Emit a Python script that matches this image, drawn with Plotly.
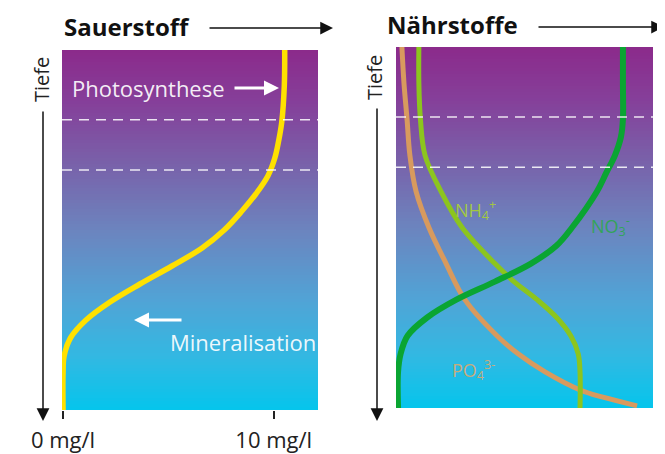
import plotly.graph_objects as go

W, H = 665, 454

# ---------------- data ----------------
# Left panel: oxygen profile (mg/l) vs depth (0 = surface, 100 = bottom)
o2_depth = [0, 10, 20, 25, 30, 35, 40, 45, 50, 55, 60, 65, 70, 75, 80, 85, 90, 100]
o2_value = [10.52, 10.5, 10.38, 10.24, 10.05, 9.72, 9.15, 8.45, 7.65, 6.6, 5.17, 3.65, 2.23, 1.09, 0.35, 0.05, 0.0, 0.0]
o2_ticks = [0, 10]
o2_ticktext = ["0 mg/l", "10 mg/l"]

# Right panel: nutrients (relative units 0-100) vs depth
po4_depth = [0, 10, 20, 30, 40, 50, 60, 70, 80, 85, 90, 95, 97, 99.4]
po4_value = [2.3, 3.1, 4.3, 5.4, 7.8, 12.8, 19.5, 26.8, 39.3, 47.5, 58.0, 71.6, 80.5, 93.8]

nh4_depth = [0, 10, 20, 30, 40, 50, 60, 65, 70, 75, 80, 85, 90, 100]
nh4_value = [8.9, 8.9, 9.5, 11.3, 17.5, 25.7, 38.5, 45.9, 54.9, 62.6, 68.0, 70.9, 71.6, 71.6]

no3_depth = [0, 10, 20, 25, 30, 35, 40, 50, 55, 60, 65, 70, 75, 80, 85, 90, 100]
no3_value = [88.3, 88.3, 88.3, 87.5, 85.2, 81.7, 78.2, 68.5, 62.5, 52.5, 38.5, 23.5, 12.0, 4.5, 1.8, 0.8, 0.8]

# layer boundaries (dashed lines)
dashed_depths = [19.4, 33.3]

# ---------------- helpers ----------------
OFF = 8  # page body margin

def px(x):
    return (x - OFF) / W

def py(y):
    return 1 - (y - OFF) / H

FONT = "Open Sans"

bg_scale = [
    [0.0, "#8B2A8B"],
    [0.15, "#85409A"],
    [0.3, "#7A5EA8"],
    [0.5, "#6C84BE"],
    [0.7, "#50A4D6"],
    [0.85, "#33B8E2"],
    [1.0, "#05C5EC"],
]

n_rows = 120
edges = [i * 100 / n_rows for i in range(n_rows + 1)]
centers = [[(edges[i] + edges[i + 1]) / 2] for i in range(n_rows)]

fig = go.Figure()

# background gradients
fig.add_trace(go.Heatmap(x=[-0.05, 12.1], y=edges, z=centers, colorscale=bg_scale,
                         zmin=0, zmax=100, showscale=False, hoverinfo="skip",
                         xaxis="x", yaxis="y"))
fig.add_trace(go.Heatmap(x=[0, 100], y=edges, z=centers, colorscale=bg_scale,
                         zmin=0, zmax=100, showscale=False, hoverinfo="skip",
                         xaxis="x2", yaxis="y2"))

# curves
fig.add_trace(go.Scatter(x=o2_value, y=o2_depth, mode="lines", line_shape="spline",
                         line=dict(color="#FFE100", width=5.5, smoothing=1.0),
                         xaxis="x", yaxis="y", hoverinfo="skip"))
fig.add_trace(go.Scatter(x=po4_value, y=po4_depth, mode="lines", line_shape="spline",
                         line=dict(color="#D89A5E", width=5, smoothing=1.0),
                         xaxis="x2", yaxis="y2", hoverinfo="skip"))
fig.add_trace(go.Scatter(x=nh4_value, y=nh4_depth, mode="lines", line_shape="spline",
                         line=dict(color="#8CC51E", width=5, smoothing=1.0),
                         xaxis="x2", yaxis="y2", hoverinfo="skip"))
fig.add_trace(go.Scatter(x=no3_value, y=no3_depth, mode="lines", line_shape="spline",
                         line=dict(color="#0AA532", width=6, smoothing=1.0),
                         xaxis="x2", yaxis="y2", hoverinfo="skip"))

shapes = []
for d in dashed_depths:
    for xr, yr in (("x domain", "y"), ("x2 domain", "y2")):
        shapes.append(dict(type="line", xref=xr, yref=yr, x0=0, x1=1, y0=d, y1=d,
                           line=dict(color="rgba(255,255,255,0.85)", width=1.5, dash="10px,7px"),
                           layer="above"))

annotations = []

def arrow(x_tip, y_tip, x_tail, y_tail, color, width, size):
    annotations.append(dict(x=px(x_tip), y=py(y_tip), xref="paper", yref="paper",
                            ax=x_tail - x_tip, ay=y_tail - y_tip, text="",
                            showarrow=True, arrowhead=2, arrowsize=size,
                            arrowwidth=width, arrowcolor=color))

def label(x, y, text, size, color, bold=False, angle=0):
    annotations.append(dict(x=px(x), y=py(y), xref="paper", yref="paper", text=text,
                            showarrow=False, textangle=angle,
                            font=dict(family=FONT, size=size, color=color,
                                      weight="bold" if bold else "normal"),
                            xanchor="center", yanchor="middle"))

# titles with arrows
label(127, 27, "Sauerstoff", 24, "#111111", bold=True)
arrow(333, 28, 208, 28, "#111111", 1.5, 1.7)
label(452, 25, "Nährstoffe", 24, "#111111", bold=True)
arrow(664, 27, 537, 27, "#111111", 1.5, 1.7)

# depth arrows
label(41, 80, "Tiefe", 20, "#222222", angle=-90)
arrow(43, 421, 43, 110, "#111111", 1.5, 1.7)
label(375, 78, "Tiefe", 20, "#222222", angle=-90)
arrow(377, 421, 377, 107, "#111111", 1.5, 1.7)

# process labels
label(148, 88, "Photosynthese", 22, "rgba(255,255,255,0.92)")
arrow(279, 88, 233, 88, "white", 3, 1)
label(243, 342, "Mineralisation", 22, "rgba(255,255,255,0.92)")
arrow(134, 320, 183, 320, "white", 3, 1)

# nutrient labels
label(475, 210, "NH<sub>4</sub><sup>+</sup>", 18, "rgba(170,210,50,0.9)")
label(610, 226, "NO<sub>3</sub><sup>-</sup>", 18, "rgba(40,170,70,0.85)")
label(473, 370, "PO<sub>4</sub><sup>3-</sup>", 18, "rgba(220,170,110,0.9)")

fig.update_layout(
    width=W, height=H,
    margin=dict(l=0, r=0, t=0, b=0, pad=0, autoexpand=False),
    paper_bgcolor="white", plot_bgcolor="white",
    showlegend=False,
    shapes=shapes, annotations=annotations,
    xaxis=dict(domain=[px(62), px(318)], range=[-0.05, 12.1], showgrid=False, zeroline=False,
               showline=False, tickvals=o2_ticks, ticktext=o2_ticktext, ticks="outside",
               ticklen=8, tickwidth=1.5, tickcolor="#222222", ticklabelstandoff=3,
               automargin=False, anchor="y",
               tickfont=dict(family=FONT, size=22, color="#222222")),
    yaxis=dict(domain=[py(410), py(50)], range=[100, 0], visible=False, automargin=False,
               anchor="x"),
    xaxis2=dict(domain=[px(396), px(653)], range=[0, 100], visible=False, anchor="y2",
                automargin=False),
    yaxis2=dict(domain=[py(408), py(47)], range=[100, 0], visible=False, anchor="x2",
                automargin=False),
)

fig.write_html("out.html")
